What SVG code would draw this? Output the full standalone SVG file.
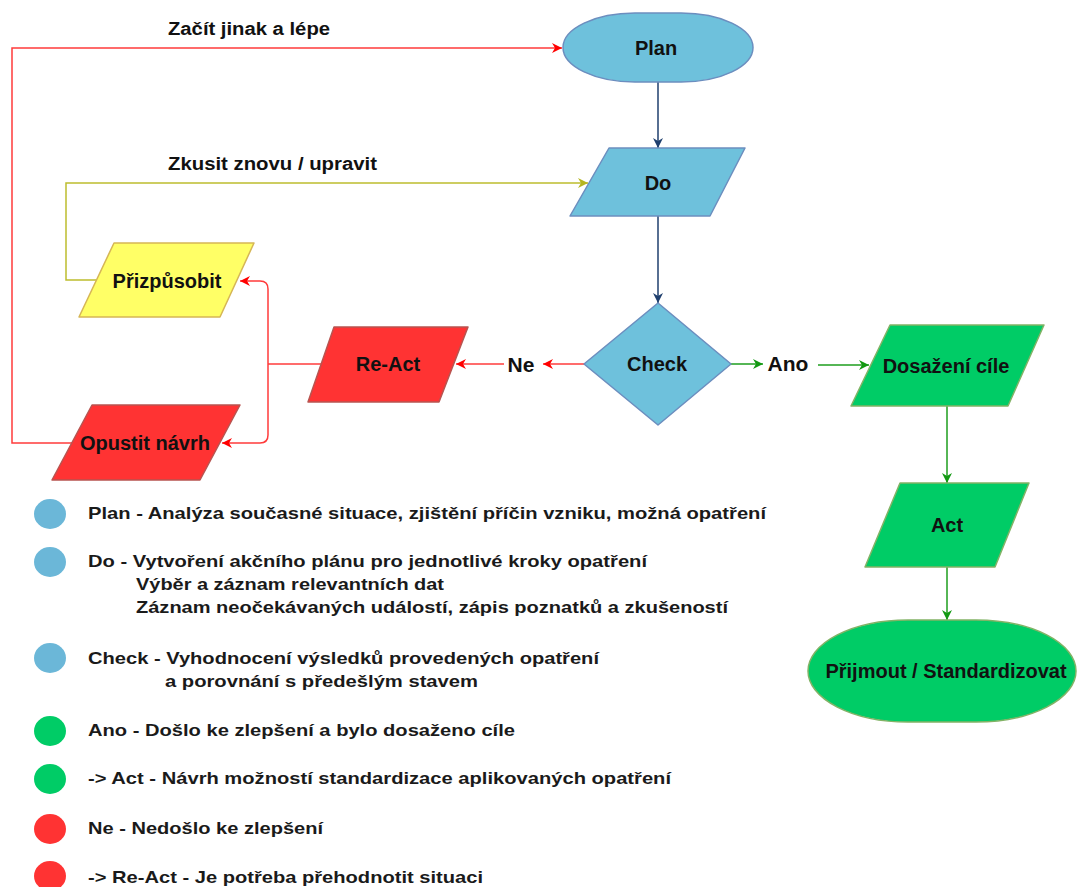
<svg xmlns="http://www.w3.org/2000/svg" width="1078" height="887" viewBox="0 0 1078 887">
  <defs>
    <style>
      .lbl { font-family: "Liberation Sans", Arial, sans-serif; font-weight: bold; font-size: 20px; fill: #111; text-anchor: middle; dominant-baseline: central; }
      .edge-lbl { font-family: "Liberation Sans", Arial, sans-serif; font-weight: bold; font-size: 18px; fill: #111; }
      .yn { font-family: "Liberation Sans", Arial, sans-serif; font-weight: bold; font-size: 21px; fill: #111; text-anchor: middle; dominant-baseline: central; }
      .leg { font-family: "Liberation Sans", Arial, sans-serif; font-weight: bold; font-size: 17px; fill: #1a1a1a; dominant-baseline: central; }
      .blue { fill: #6EC1DC; stroke: #6C8EBF; stroke-width: 1.5; stroke-linejoin: round; }
      .yellow { fill: #FFFF66; stroke: #D6B656; stroke-width: 1.5; stroke-linejoin: round; }
      .red { fill: #FF3333; stroke: #B85450; stroke-width: 1.5; stroke-linejoin: round; }
      .green { fill: #00CC66; stroke: #82B366; stroke-width: 1.5; stroke-linejoin: round; }
      .e-navy { fill: none; stroke: #1F3F6E; stroke-width: 1.5; }
      .e-red { fill: none; stroke: #FF3B3B; stroke-width: 1.5; }
      .e-yel { fill: none; stroke: #BDBD2E; stroke-width: 1.5; }
      .e-green { fill: none; stroke: #1E9E1E; stroke-width: 1.5; }
    </style>
    <marker id="ah-navy" viewBox="0 0 10 10" refX="10" refY="5" markerWidth="10" markerHeight="10" markerUnits="userSpaceOnUse" orient="auto">
      <path d="M0,0 L10,5 L0,10 L3,5 z" fill="#1F3F6E"/>
    </marker>
    <marker id="ah-red" viewBox="0 0 10 10" refX="10" refY="5" markerWidth="10" markerHeight="10" markerUnits="userSpaceOnUse" orient="auto">
      <path d="M0,0 L10,5 L0,10 L3,5 z" fill="#FF0000"/>
    </marker>
    <marker id="ah-yel" viewBox="0 0 10 10" refX="10" refY="5" markerWidth="10" markerHeight="10" markerUnits="userSpaceOnUse" orient="auto">
      <path d="M0,0 L10,5 L0,10 L3,5 z" fill="#B5B520"/>
    </marker>
    <marker id="ah-green" viewBox="0 0 10 10" refX="10" refY="5" markerWidth="10" markerHeight="10" markerUnits="userSpaceOnUse" orient="auto">
      <path d="M0,0 L10,5 L0,10 L3,5 z" fill="#129912"/>
    </marker>
  </defs>

  <rect width="1078" height="887" fill="#ffffff"/>

  <!-- connectors -->
  <g id="connectors">
    <path class="e-navy" d="M658,82 V148" marker-end="url(#ah-navy)"/>
    <path class="e-navy" d="M658,216 V303" marker-end="url(#ah-navy)"/>
    <path class="e-red" d="M584,364 H543" marker-end="url(#ah-red)"/>
    <path class="e-red" d="M504,364 H456" marker-end="url(#ah-red)"/>
    <path class="e-red" d="M321,364 H268"/>
    <path class="e-red" d="M268,364 V289 Q268,281 260,281 H240" marker-end="url(#ah-red)"/>
    <path class="e-red" d="M268,364 V435 Q268,443 260,443 H222" marker-end="url(#ah-red)"/>
    <path class="e-red" d="M72,443 H12 V48 H562" marker-end="url(#ah-red)"/>
    <path class="e-yel" d="M96,280 H66 V183 H588" marker-end="url(#ah-yel)"/>
    <path class="e-green" d="M731,364 H763" marker-end="url(#ah-green)"/>
    <path class="e-green" d="M818,365 H869" marker-end="url(#ah-green)"/>
    <path class="e-green" d="M947,406 V483" marker-end="url(#ah-green)"/>
    <path class="e-green" d="M947,567 V620" marker-end="url(#ah-green)"/>
    <text class="edge-lbl" x="168" y="35" textLength="162" lengthAdjust="spacingAndGlyphs">Začít jinak a lépe</text>
    <text class="edge-lbl" x="168" y="170" textLength="209" lengthAdjust="spacingAndGlyphs">Zkusit znovu / upravit</text>
    <text class="yn" x="521" y="364">Ne</text>
    <text class="yn" x="788" y="363">Ano</text>
  </g>

  <!-- flow nodes -->
  <g id="plan">
    <rect class="blue" x="563" y="13" width="190" height="69" rx="72" ry="34.5"/>
    <text class="lbl" x="656" y="48">Plan</text>
  </g>
  <g id="do">
    <polygon class="blue" points="609,148 745,148 710,216 570,216"/>
    <text class="lbl" x="658" y="183">Do</text>
  </g>
  <g id="check">
    <polygon class="blue" points="658,303 731,364 658,425 584,364"/>
    <text class="lbl" x="657" y="364">Check</text>
  </g>
  <g id="prizpusobit">
    <polygon class="yellow" points="114,243 254,243 220,317 79,317"/>
    <text class="lbl" x="167" y="281">Přizpůsobit</text>
  </g>
  <g id="react">
    <polygon class="red" points="334,327 468,327 439,402 308,402"/>
    <text class="lbl" x="388" y="364">Re-Act</text>
  </g>
  <g id="opustit">
    <polygon class="red" points="92,405 240,405 200,480 52,480"/>
    <text class="lbl" x="145" y="443">Opustit návrh</text>
  </g>
  <g id="dosazeni">
    <polygon class="green" points="890,325 1044,325 1008,406 851,406"/>
    <text class="lbl" x="946" y="366">Dosažení cíle</text>
  </g>
  <g id="act">
    <polygon class="green" points="900,483 1029,483 995,567 865,567"/>
    <text class="lbl" x="947" y="525">Act</text>
  </g>
  <g id="prijmout">
    <rect class="green" x="808" y="620" width="268" height="102" rx="100" ry="51"/>
    <text class="lbl" x="946" y="671">Přijmout / Standardizovat</text>
  </g>

  <!-- legend -->
  <g id="legend">
    <ellipse cx="50" cy="514" rx="16" ry="15" fill="#6BB7D8"/>
    <text class="leg" x="88" y="513" textLength="678" lengthAdjust="spacingAndGlyphs">Plan - Analýza současné situace, zjištění příčin vzniku, možná opatření</text>

    <ellipse cx="50" cy="562" rx="16" ry="15" fill="#6BB7D8"/>
    <text class="leg" x="88" y="561" textLength="559" lengthAdjust="spacingAndGlyphs">Do - Vytvoření akčního plánu pro jednotlivé kroky opatření</text>
    <text class="leg" x="136" y="584" textLength="308" lengthAdjust="spacingAndGlyphs">Výběr a záznam relevantních dat</text>
    <text class="leg" x="136" y="607" textLength="592" lengthAdjust="spacingAndGlyphs">Záznam neočekávaných událostí, zápis poznatků a zkušeností</text>

    <ellipse cx="50" cy="658" rx="16" ry="15" fill="#6BB7D8"/>
    <text class="leg" x="88" y="658" textLength="511" lengthAdjust="spacingAndGlyphs">Check - Vyhodnocení výsledků provedených opatření</text>
    <text class="leg" x="165" y="681" textLength="313" lengthAdjust="spacingAndGlyphs">a porovnání s předešlým stavem</text>

    <ellipse cx="50" cy="731" rx="16" ry="15" fill="#00CC66"/>
    <text class="leg" x="88" y="730" textLength="427" lengthAdjust="spacingAndGlyphs">Ano - Došlo ke zlepšení a bylo dosaženo cíle</text>

    <ellipse cx="50" cy="779" rx="16" ry="15" fill="#00CC66"/>
    <text class="leg" x="88" y="778" textLength="583" lengthAdjust="spacingAndGlyphs">-&gt; Act - Návrh možností standardizace aplikovaných opatření</text>

    <ellipse cx="50" cy="829" rx="16" ry="15" fill="#FF3333"/>
    <text class="leg" x="88" y="828" textLength="235" lengthAdjust="spacingAndGlyphs">Ne - Nedošlo ke zlepšení</text>

    <ellipse cx="50" cy="876" rx="16" ry="15" fill="#FF3333"/>
    <text class="leg" x="88" y="877" textLength="395" lengthAdjust="spacingAndGlyphs">-&gt; Re-Act - Je potřeba přehodnotit situaci</text>
  </g>
</svg>
